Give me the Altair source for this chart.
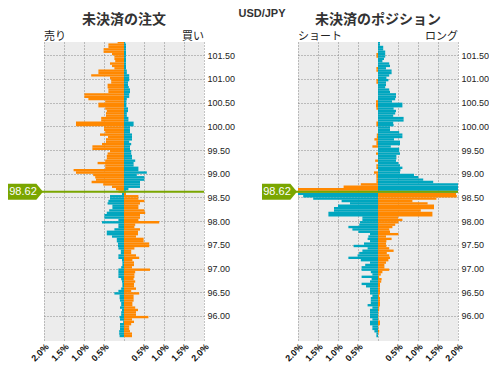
import altair as alt
import pandas as pd

# ---------------- data ----------------
CURRENT_PRICE = 98.62
CURRENT_LABEL = "98.62"
STEP = 0.05
TOP_ABOVE = 101.75   # lower edge of the highest bucket
TOP_BELOW = 98.55    # lower edge of the highest bucket under the current price
N_ABOVE = 64
N_BELOW = 62

y_tick_values = [96.0, 96.5, 97.0, 97.5, 98.0, 98.5, 99.0, 99.5, 100.0, 100.5, 101.0, 101.5]
x_tick_values = [-2.0, -1.5, -1.0, -0.5, 0.0, 0.5, 1.0, 1.5, 2.0]

# open orders (percent), buckets from the top down
orders_sell_above = [0.16, 0.39, 0.39, 0.51, 0.51, 0.30, 0.24, 0.24, 0.22, 0.35, 0.30, 0.24, 0.64, 0.64,
                     0.82, 0.35, 0.32, 0.32, 0.41, 0.41, 0.39, 0.39, 0.99, 0.99, 0.89, 0.47, 0.64, 0.64,
                     0.47, 0.43, 0.45, 0.45, 0.57, 0.57, 1.20, 1.20, 0.50, 0.50, 0.47, 0.60, 0.40, 0.45,
                     0.45, 0.55, 0.79, 0.79, 0.35, 0.41, 0.43, 0.43, 0.47, 0.66, 0.47, 0.47, 1.26, 1.20,
                     0.77, 0.72, 0.70, 0.81, 0.52, 0.30, 0.20, 0.14]
orders_buy_above = [0.03, 0.05, 0.05, 0.05, 0.05, 0.05, 0.05, 0.05, 0.05, 0.05, 0.05, 0.05, 0.07, 0.07,
                    0.13, 0.13, 0.13, 0.10, 0.10, 0.12, 0.15, 0.15, 0.13, 0.13, 0.07, 0.06, 0.06, 0.06,
                    0.10, 0.10, 0.07, 0.07, 0.11, 0.11, 0.24, 0.24, 0.15, 0.15, 0.15, 0.20, 0.20, 0.20,
                    0.13, 0.18, 0.15, 0.15, 0.18, 0.18, 0.20, 0.20, 0.28, 0.24, 0.24, 0.36, 0.36, 0.57,
                    0.32, 0.51, 0.51, 0.40, 0.40, 0.40, 0.11, 0.05]
orders_sell_below = [0.05, 0.35, 0.35, 0.39, 0.41, 0.29, 0.29, 0.37, 0.43, 0.49, 0.49, 0.14, 0.55, 0.14,
                     0.14, 0.24, 0.43, 0.43, 0.30, 0.18, 0.18, 0.15, 0.15, 0.14, 0.08, 0.08, 0.14, 0.14,
                     0.05, 0.04, 0.04, 0.07, 0.14, 0.14, 0.14, 0.14, 0.07, 0.05, 0.04, 0.04, 0.07, 0.14,
                     0.24, 0.11, 0.11, 0.10, 0.07, 0.07, 0.10, 0.05, 0.07, 0.07, 0.11, 0.10, 0.02, 0.10,
                     0.10, 0.10, 0.12, 0.12, 0.11, 0.00]
orders_buy_below = [0.05, 0.36, 0.36, 0.51, 0.40, 0.36, 0.36, 0.51, 0.53, 0.40, 0.40, 0.36, 0.88, 0.28,
                    0.26, 0.40, 0.35, 0.35, 0.30, 0.49, 0.49, 0.63, 0.63, 0.26, 0.18, 0.18, 0.30, 0.38,
                    0.21, 0.25, 0.25, 0.20, 0.65, 0.28, 0.26, 0.26, 0.24, 0.28, 0.25, 0.25, 0.30, 0.18,
                    0.38, 0.24, 0.24, 0.24, 0.21, 0.21, 0.28, 0.35, 0.30, 0.30, 0.61, 0.20, 0.25, 0.18,
                    0.13, 0.13, 0.15, 0.20, 0.20, 0.00]

# open positions (percent)
pos_short_above = [0.00, 0.00, 0.00, 0.00, 0.00, 0.04, 0.04, 0.00, 0.00, 0.00, 0.00, 0.04, 0.04, 0.00,
                   0.00, 0.00, 0.04, 0.04, 0.00, 0.00, 0.00, 0.00, 0.00, 0.00, 0.00, 0.05, 0.05, 0.05,
                   0.04, 0.00, 0.00, 0.00, 0.00, 0.00, 0.04, 0.04, 0.00, 0.00, 0.00, 0.03, 0.03, 0.09,
                   0.04, 0.04, 0.14, 0.00, 0.00, 0.05, 0.00, 0.00, 0.07, 0.00, 0.04, 0.04, 0.00, 0.10,
                   0.04, 0.04, 0.04, 0.04, 0.43, 0.86, 2.50, 2.50]
pos_long_above = [0.05, 0.05, 0.13, 0.13, 0.18, 0.18, 0.18, 0.15, 0.11, 0.28, 0.30, 0.20, 0.34, 0.34,
                  0.28, 0.21, 0.26, 0.20, 0.20, 0.18, 0.28, 0.30, 0.45, 0.45, 0.43, 0.35, 0.61, 0.61,
                  0.39, 0.45, 0.43, 0.38, 0.64, 0.64, 0.38, 0.39, 0.30, 0.30, 0.53, 0.61, 0.61, 0.40,
                  0.55, 0.55, 0.32, 0.53, 0.53, 0.55, 0.46, 0.46, 0.45, 0.51, 0.55, 0.61, 0.56, 0.55,
                  0.90, 1.01, 1.13, 1.38, 2.20, 2.60, 3.00, 3.00]
pos_short_below = [2.40, 1.87, 1.62, 0.91, 0.70, 1.00, 1.10, 1.10, 1.24, 1.24, 0.39, 0.39, 0.45, 0.47,
                   0.74, 0.64, 0.49, 0.20, 0.24, 0.26, 0.20, 0.35, 0.61, 0.26, 0.39, 0.47, 0.51, 0.74,
                   0.43, 0.20, 0.32, 0.41, 0.41, 0.18, 0.14, 0.41, 0.16, 0.20, 0.41, 0.30, 0.20, 0.20,
                   0.20, 0.14, 0.18, 0.18, 0.18, 0.26, 0.14, 0.20, 0.20, 0.20, 0.20, 0.14, 0.20, 0.20,
                   0.14, 0.14, 0.09, 0.04, 0.04, 0.00]
pos_long_below = [1.95, 1.97, 1.46, 0.86, 1.24, 1.40, 1.40, 1.07, 1.36, 1.36, 0.50, 0.61, 0.51, 0.43,
                  0.36, 0.28, 0.30, 0.51, 0.20, 0.34, 0.21, 0.20, 0.21, 0.28, 0.39, 0.22, 0.28, 0.30,
                  0.26, 0.20, 0.16, 0.16, 0.28, 0.11, 0.07, 0.03, 0.09, 0.08, 0.05, 0.05, 0.05, 0.05,
                  0.05, 0.03, 0.05, 0.05, 0.05, 0.05, 0.03, 0.03, 0.01, 0.01, 0.01, 0.01, 0.05, 0.05,
                  0.01, 0.01, 0.03, 0.01, 0.00, 0.00]

ORANGE = "#ff8800"
TEAL = "#00a6bf"
GREEN = "#7aa600"
JP_FONT = "Noto Sans CJK JP"
NUM_FONT = "Liberation Sans"


def fit(values, n):
    values = list(values)[:n]
    return values + [0.0] * (n - len(values))


def build(left_above, right_above, left_below, right_below):
    rows = []
    la, ra = fit(left_above, N_ABOVE), fit(right_above, N_ABOVE)
    lb, rb = fit(left_below, N_BELOW), fit(right_below, N_BELOW)
    for k in range(N_ABOVE):
        p = round(TOP_ABOVE - STEP * k, 2)
        rows.append(dict(p=p, p2=round(p + STEP, 2), v=-la[k], z=0.0, kind="orange"))
        rows.append(dict(p=p, p2=round(p + STEP, 2), v=ra[k], z=0.0, kind="teal"))
    for k in range(N_BELOW):
        p = round(TOP_BELOW - STEP * k, 2)
        rows.append(dict(p=p, p2=round(p + STEP, 2), v=-lb[k], z=0.0, kind="teal"))
        rows.append(dict(p=p, p2=round(p + STEP, 2), v=rb[k], z=0.0, kind="orange"))
    return pd.DataFrame(rows)


W, H = 160, 299

X_SCALE = alt.Scale(domain=[-2, 2], nice=False, zero=False)
Y_SCALE = alt.Scale(domain=[95.47, 101.78], nice=False, zero=False)
X_AXIS = alt.Axis(
    values=x_tick_values, title=None, grid=True, domain=False, ticks=False,
    labelExpr="datum.value == 0 ? '' : format(abs(datum.value), '.1f') + '%'",
    labelAngle=315, labelFontSize=9, labelFontWeight="bold", labelColor="#111",
    labelFont=NUM_FONT, labelPadding=1, labelOverlap=False, labelFlush=False,
    gridColor="#888", gridDash=[1, 2])
Y_AXIS = alt.Axis(
    orient="right", values=y_tick_values, format=".2f", title=None, grid=True,
    domain=False, ticks=False, labelFontSize=9, labelColor="#222", labelFont=NUM_FONT,
    labelPadding=3, labelOverlap=False, labelFlush=False,
    gridColor="#888", gridDash=[1, 2])


def panel(df, title, left_lbl, right_lbl, show_pair):
    bars = alt.Chart(df).mark_bar(clip=True).encode(
        x=alt.X("v:Q", scale=X_SCALE, axis=X_AXIS),
        x2="z:Q",
        y=alt.Y("p:Q", scale=Y_SCALE, axis=Y_AXIS),
        y2="p2:Q",
        color=alt.Color("kind:N", scale=alt.Scale(domain=["orange", "teal"], range=[ORANGE, TEAL]),
                        legend=None),
    )
    cur = pd.DataFrame({"p": [CURRENT_PRICE], "t": [CURRENT_LABEL]})
    y_cur = alt.Y("p:Q", scale=Y_SCALE, axis=Y_AXIS)
    rule = alt.Chart(cur).mark_rule(color=GREEN, strokeWidth=2).encode(
        y=y_cur, x=alt.value(-2), x2=alt.value(W))
    tag = alt.Chart(cur).mark_point(
        shape="M-1,-0.46L0.62,-0.46L1,0L0.62,0.46L-1,0.46Z", size=1225, filled=True,
        color=GREEN, opacity=1, strokeWidth=0).encode(y=y_cur, x=alt.value(-18.5))
    tag_text = alt.Chart(cur).mark_text(color="white", fontSize=11, font=NUM_FONT,
                                        align="center", baseline="middle").encode(
        y=y_cur, x=alt.value(-21), text="t:N")

    def txt(s, x, y, **kw):
        return alt.Chart(pd.DataFrame({"t": [s]})).mark_text(**kw).encode(
            x=alt.value(x), y=alt.value(y), text="t:N")

    t_title = txt(title, W / 2, -18, fontSize=14, fontWeight="bold", font=JP_FONT,
                  color="#333", align="center", baseline="alphabetic")
    t_left = txt(left_lbl, 0, -2, fontSize=11, font=JP_FONT, color="#222",
                 align="left", baseline="alphabetic")
    t_right = txt(right_lbl, W, -2, fontSize=11, font=JP_FONT, color="#222",
                  align="right", baseline="alphabetic")
    if show_pair:
        t_pair = txt("USD/JPY", -36, -34, fontSize=11, fontWeight="bold", font=NUM_FONT,
                     color="#333", align="center", baseline="top")
    else:
        t_pair = txt("USD/JPY", W / 2, -34, fontSize=11, fontWeight="bold", font=NUM_FONT,
                     color="#333", align="center", baseline="top", opacity=0)
    return alt.layer(bars, rule, tag, tag_text, t_title, t_left, t_right, t_pair).properties(
        width=W, height=H)


orders_df = build(orders_sell_above, orders_buy_above, orders_sell_below, orders_buy_below)
pos_df = build(pos_short_above, pos_long_above, pos_short_below, pos_long_below)

left = panel(orders_df, "未決済の注文", "売り", "買い", False)
right = panel(pos_df, "未決済のポジション", "ショート", "ロング", True)

chart = alt.hconcat(left, right, spacing=3).properties(padding=0).configure_view(
    fill="#ececec", stroke=None)

chart.save("out.html", embed_options={"renderer": "svg", "actions": False})
